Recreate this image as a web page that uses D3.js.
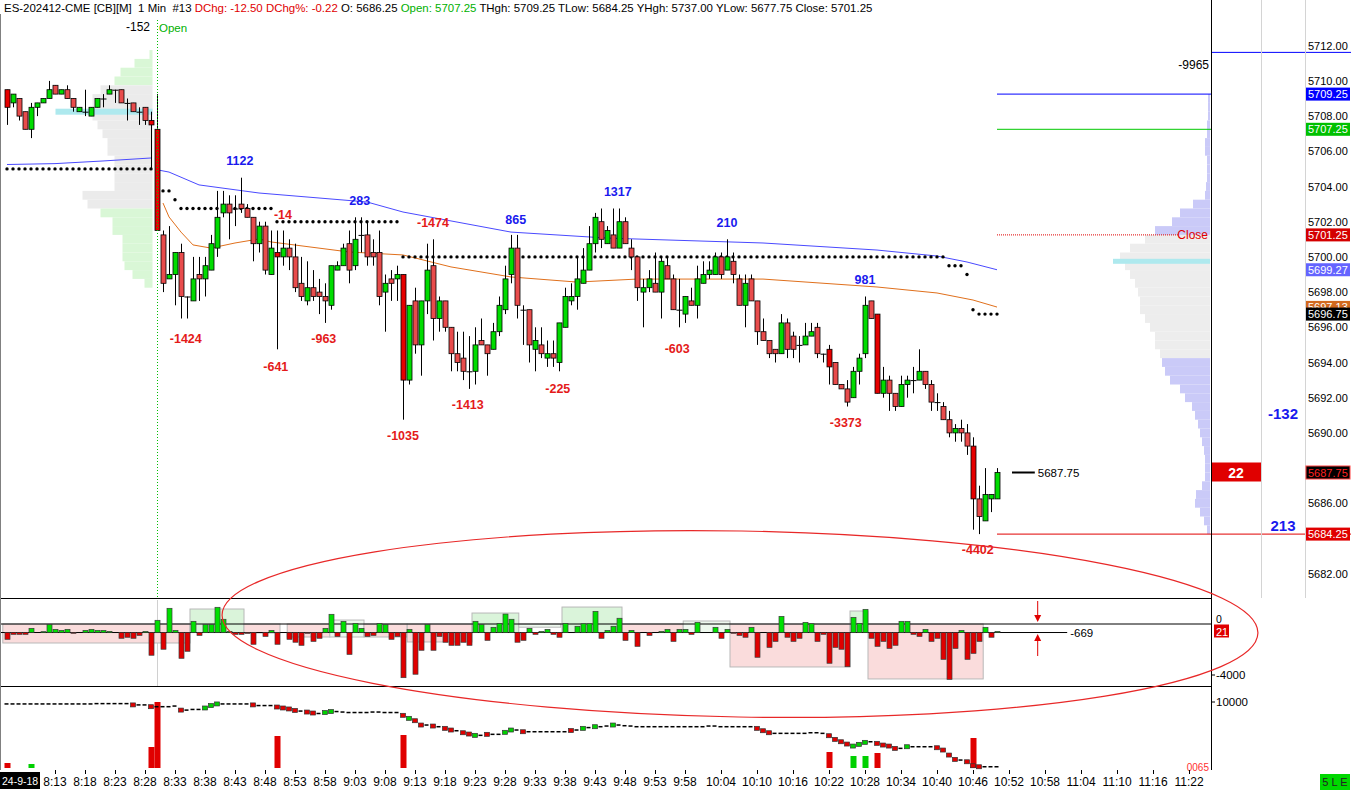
<!DOCTYPE html>
<html><head><meta charset="utf-8">
<script src="https://cdn.jsdelivr.net/npm/d3@7"></script>
<style>body{margin:0;background:#fff;overflow:hidden}svg{display:block;font-family:"Liberation Sans",Arial,sans-serif}</style>
</head><body><svg id="c" width="1351" height="790"></svg>
<script>
// ---------- DATA ----------
const opens=[5709.5,5708.75,5709.0,5708.25,5707.25,5708.5,5708.75,5709.0,5709.75,5709.25,
5709.5,5709.0,5708.25,5708.25,5708.0,5708.5,5709.0,5709.25,5709.5,5709.5,
5708.75,5708.75,5708.25,5708.5,5707.75,5707.25,5701.25,5698.75,5699.0,5700.25,
5697.75,5697.5,5699.0,5698.75,5699.25,5700.5,5702.5,5703.0,5702.75,5703.0,
5702.75,5702.25,5700.75,5701.75,5699.0,5700.25,5700.0,5700.5,5700.0,5698.5,
5697.5,5698.25,5698.0,5697.75,5697.25,5699.25,5699.5,5700.75,5699.5,5701.25,
5701.25,5700.25,5700.25,5698.0,5698.75,5698.75,5699.0,5693.0,5697.5,5695.0,
5697.5,5699.5,5696.5,5697.5,5696.0,5694.5,5694.25,5693.5,5693.5,5695.25,
5695.0,5694.75,5695.75,5697.0,5699.0,5700.5,5697.0,5697.0,5694.75,5695.0,
5694.25,5694.5,5694.0,5696.0,5697.5,5697.75,5698.5,5699.25,5700.75,5702.0,
5700.75,5701.25,5700.5,5702.0,5700.5,5700.0,5698.0,5698.25,5698.5,5698.0,
5699.5,5698.75,5697.0,5696.75,5697.5,5697.25,5698.5,5699.0,5699.0,5700.0,
5699.25,5699.75,5698.75,5697.25,5698.75,5697.5,5695.75,5695.25,5694.75,5694.5,
5696.25,5695.5,5695.0,5695.0,5695.5,5696.0,5694.5,5694.75,5694.0,5692.75,
5692.5,5692.0,5693.5,5694.5,5697.5,5696.75,5692.25,5693.0,5692.25,5691.5,
5692.75,5693.0,5693.0,5693.5,5692.75,5691.75,5691.5,5690.75,5690.0,5690.25,
5690.0,5689.25,5686.25,5685.0,5686.25,5686.25];
const highs=[5709.5,5709.25,5709.0,5708.25,5708.75,5708.75,5709.0,5710.0,5709.75,5709.5,
5709.75,5709.0,5708.5,5709.5,5708.5,5709.0,5709.25,5709.75,5709.5,5709.5,
5709.0,5708.75,5708.5,5708.5,5708.25,5709.25,5701.5,5701.75,5700.25,5700.75,
5697.75,5700.0,5700.0,5700.0,5701.25,5703.75,5703.75,5703.5,5703.5,5704.5,
5703.0,5702.25,5702.0,5702.0,5701.5,5701.5,5701.5,5701.0,5700.75,5700.0,
5699.75,5699.25,5698.75,5698.5,5699.5,5699.75,5700.75,5701.5,5702.25,5702.25,
5702.0,5701.0,5701.5,5699.0,5699.25,5699.5,5699.0,5697.25,5698.25,5697.5,
5700.75,5701.0,5697.75,5697.5,5696.0,5695.75,5695.75,5695.5,5696.0,5696.5,
5695.0,5696.25,5697.75,5699.5,5701.25,5701.25,5697.25,5697.0,5696.0,5696.0,
5695.25,5695.25,5696.25,5698.25,5698.5,5700.0,5700.5,5701.75,5702.5,5702.75,
5701.75,5702.75,5702.75,5702.25,5701.0,5700.0,5698.75,5699.25,5700.25,5700.0,
5700.0,5699.0,5698.75,5697.75,5698.25,5699.5,5699.75,5699.75,5700.25,5700.25,
5701.0,5700.25,5699.0,5699.0,5699.0,5697.5,5696.5,5695.25,5694.75,5696.75,
5696.5,5695.75,5695.5,5696.25,5696.25,5696.25,5694.5,5695.0,5694.0,5692.75,
5693.0,5693.75,5694.5,5697.75,5697.5,5696.75,5693.75,5693.25,5692.25,5693.25,
5693.25,5693.75,5694.75,5693.5,5693.0,5692.25,5691.75,5691.25,5690.5,5690.75,
5690.5,5689.75,5687.0,5688.0,5686.5,5688.0];
const lows=[5707.5,5708.5,5707.75,5707.25,5706.75,5708.0,5708.75,5709.0,5709.25,5709.25,
5709.0,5708.25,5708.25,5708.0,5708.0,5708.5,5708.5,5709.25,5708.75,5708.75,
5707.75,5708.25,5707.5,5707.5,5705.0,5701.5,5698.0,5698.75,5697.25,5696.5,
5696.5,5697.5,5697.5,5697.75,5699.25,5700.0,5702.25,5701.0,5701.75,5702.5,
5702.25,5699.75,5700.25,5699.0,5699.0,5694.75,5699.5,5699.25,5698.0,5697.5,
5697.25,5697.5,5696.75,5696.25,5697.0,5699.25,5699.5,5698.5,5699.25,5700.25,
5699.5,5699.5,5697.25,5695.75,5697.5,5697.5,5690.75,5692.75,5694.5,5693.25,
5696.75,5695.25,5695.75,5695.75,5693.5,5693.5,5693.0,5692.5,5692.75,5695.0,
5693.25,5694.75,5695.5,5696.75,5698.5,5696.5,5695.0,5694.0,5693.5,5694.25,
5693.75,5693.75,5693.5,5696.0,5697.25,5697.0,5698.5,5699.25,5700.25,5700.5,
5700.75,5700.5,5700.5,5700.75,5699.25,5697.5,5696.0,5698.0,5698.0,5696.5,
5698.75,5697.0,5696.0,5696.25,5697.25,5696.5,5698.5,5698.75,5699.0,5698.75,
5699.25,5698.5,5697.25,5696.0,5697.5,5695.0,5695.25,5694.25,5694.0,5694.5,
5694.25,5694.25,5694.0,5695.0,5695.5,5694.25,5694.0,5692.75,5692.75,5692.5,
5691.5,5692.0,5692.75,5694.25,5696.5,5692.25,5692.0,5691.25,5691.25,5691.5,
5692.0,5692.25,5693.0,5692.5,5691.25,5691.25,5690.75,5689.75,5689.5,5689.5,
5688.75,5684.5,5684.25,5685.0,5685.5,5686.25];
const closes=[5708.5,5709.25,5708.0,5707.25,5708.5,5708.75,5709.0,5709.5,5709.25,5709.5,
5709.0,5708.5,5708.5,5708.25,5708.5,5709.0,5709.0,5709.5,5709.5,5708.75,
5708.75,5708.25,5708.25,5707.75,5707.5,5701.5,5698.5,5699.0,5700.25,5697.75,
5697.75,5698.75,5698.75,5699.5,5700.75,5702.25,5703.0,5702.5,5702.75,5702.75,
5702.25,5700.75,5701.75,5699.25,5700.5,5700.0,5700.5,5700.0,5698.25,5697.75,
5698.25,5697.75,5697.75,5697.5,5699.5,5699.5,5700.5,5699.25,5701.0,5701.25,
5700.0,5700.0,5697.75,5698.5,5698.5,5699.0,5693.0,5697.25,5695.0,5697.5,
5699.25,5696.5,5697.5,5696.0,5694.5,5694.0,5693.5,5693.5,5695.0,5695.0,
5694.5,5695.75,5697.25,5698.75,5700.5,5697.25,5697.0,5695.0,5695.25,5694.5,
5694.5,5694.25,5696.25,5697.75,5697.75,5698.75,5699.25,5700.75,5702.25,5701.0,
5701.5,5700.5,5702.0,5700.75,5700.0,5698.25,5698.25,5698.75,5698.0,5699.75,
5698.75,5697.0,5697.0,5697.75,5697.25,5698.75,5699.0,5699.25,5700.0,5699.0,
5700.0,5699.0,5697.25,5698.5,5697.5,5695.75,5695.25,5694.5,5694.5,5696.25,
5694.75,5694.75,5695.0,5695.5,5695.75,5694.5,5694.5,5693.75,5692.75,5692.5,
5691.75,5693.5,5694.25,5697.25,5696.5,5692.25,5693.0,5692.25,5691.5,5692.75,
5693.0,5693.0,5693.5,5692.75,5691.75,5691.75,5690.75,5690.0,5690.25,5690.0,
5689.25,5686.25,5685.25,5686.5,5686.5,5687.75];
const deltas=[-1200,-810,-810,-810,-340,-669,-600,-50,-420,-500,
-420,-730,-669,-500,-420,-500,-500,-580,-669,-1120,
-1040,-1120,-890,-580,-2450,290,-1980,1230,-500,-2690,
-2140,210,-890,-50,-50,1310,370,-580,-810,-810,
-730,-1590,-669,-970,-500,-1590,-669,-1200,-1430,-1670,
-730,-1360,-1120,-340,760,-970,210,-2380,50,-340,
-970,-890,50,-50,-1200,-970,-4210,-420,-3940,-2060,
-50,-2060,-970,-1430,-1670,-1670,-1430,-1670,210,-50,
-1280,-260,50,780,370,-1430,-1280,-340,-810,-580,
-420,-810,-1040,50,-669,-180,20,20,990,-1120,
-500,-180,450,-1280,-500,-1750,-669,-890,-669,-580,
-420,-1360,-420,-420,-810,130,-669,-669,-260,-1120,
-420,-730,-890,-1040,-260,-2610,-669,-1830,-1360,600,
-1040,-1360,-1120,130,20,-1360,-810,-3080,-1830,-1980,
-3350,520,50,1150,-1120,-1750,-1360,-1910,-1670,210,
210,-810,-970,-420,-1360,-1120,-2770,-4340,-1910,-500,
-2770,-2300,-1360,-260,-1040,-580];
const deltaBaseline=-669;
const cumDelta=[9400,9400,9400,9400,9400,9400,9400,9400,9400,9400,
9400,9400,9400,9400,9400,9500,9500,9500,9500,9500,
9500,9100,9100,9100,8550,8550,8550,8550,8750,7500,
7500,7700,7700,8150,8900,9400,9400,9400,9400,9400,
9400,9100,8900,8900,8900,8450,8150,7850,7400,7200,
6900,6600,6450,6750,7050,7050,6900,6750,6750,6750,
6750,6900,6900,6750,6750,6750,5890,4960,4220,2890,
2890,2580,2370,1870,1350,1130,510,110,-290,-290,
20,20,20,640,1350,1350,820,820,820,820,
820,820,820,820,1200,1350,1870,2100,2370,2370,
2580,2890,2890,2680,2580,2370,2370,2370,2370,2370,
2370,2370,2370,2370,2370,2370,2370,2580,2580,2370,
2370,2370,2370,2370,2370,1870,1130,510,320,320,
320,320,320,320,510,510,320,-410,-1530,-2270,
-2980,-3600,-3070,-2450,-2270,-2760,-3290,-3600,-4310,-4310,
-3810,-3810,-3810,-3810,-3810,-4120,-4830,-6380,-7710,-7920,
-8450,-9680,-9990,-9990,-9990,-9990];
const spikeBars=[0,4,24,25,45,66,137,141,143,145,161];
const spikeVols=[500,400,2100,6600,3200,3300,1600,1200,1200,1500,3000];

const tickTimes=["8:13","8:18","8:23","8:28","8:33","8:38","8:43","8:48","8:53","8:58","9:03","9:08","9:13","9:18","9:23","9:28","9:33","9:38","9:43","9:48","9:53","9:58","10:04","10:10","10:16","10:22","10:28","10:34","10:40","10:46","10:52","10:58","11:04","11:10","11:16","11:22"];
const firstBarTime="8:05";
const sessionDate="24-9-18";
const priceTicks=[5682,5684,5686,5688,5690,5692,5694,5696,5698,5700,5702,5704,5706,5708,5710,5712];

const vwapPre=[[0,5705.25],[8,5705.3],[16,5705.45],[24,5705.62]];
const vwapSess=[[25,5704.95],[27,5704.82],[32,5704.09],[42,5703.63],[60,5703.12],[66,5702.55],[75,5701.98],[84,5701.41],[100,5701.07],[126,5700.79],[145,5700.39],[155,5700.05],[160,5699.71],[165,5699.27]];
const orangeLine=[[26,5703.06],[27,5702.27],[29,5701.41],[31,5700.68],[34,5700.5],[38,5700.79],[42,5701.02],[44,5700.85],[57,5700.28],[66,5700.11],[74,5699.43],[84,5698.86],[95,5698.57],[105,5698.74],[126,5698.74],[145,5698.29],[155,5697.95],[161,5697.55],[165,5697.15]];
const stopRuns=[[0,24,5705.0],[26,27,5703.75],[28,28,5703.25],[29,44,5702.75],[45,65,5702.0],[66,156,5700.0],[157,159,5699.5],[160,160,5699.0],[161,161,5697.0],[162,165,5696.75]];

const preProfPrices=[5711.5,5711.0,5710.5,5710.0,5709.5,5709.0,5708.5,5708.0,5707.5,5707.0,5706.5,5706.0,5705.5,5705.0,5704.5,5704.0,5703.5,5703.0,5702.5,5702.0,5701.5,5701.0,5700.5,5700.0,5699.5,5699.0,5698.5];
const preProfVols=[30,180,320,380,520,600,600,600,550,500,450,450,380,380,380,380,700,650,520,400,400,300,300,300,280,200,80];
const prePOC=[5708.25,970]; const preVA=[5709.75,5703.0];
const sessProfPrices=[5709.0,5708.5,5708.0,5707.5,5707.0,5706.5,5706.0,5705.5,5705.0,5704.5,5704.0,5703.5,5703.0,5702.5,5702.0,5701.5,5701.0,5700.5,5700.0,5699.5,5699.0,5698.5,5698.0,5697.5,5697.0,5696.5,5696.0,5695.5,5695.0,5694.5,5694.0,5693.5,5693.0,5692.5,5692.0,5691.5,5691.0,5690.5,5690.0,5689.5,5689.0,5688.5,5688.0,5687.5,5687.0,5686.5,5686.0,5685.5,5685.0,5684.5];
const sessProfVols=[20,20,20,30,30,50,50,30,30,30,40,50,170,300,380,550,650,800,900,850,800,750,720,700,700,650,600,550,550,500,480,450,400,300,250,180,150,120,100,80,60,50,50,50,80,140,150,100,60,30];
const sessPOC=[5699.75,970]; const sessVA=[5701.25,5694.25];

const swingText=["1122","-14","283","-1474","865","1317","210","981","-1424","-641","-963","-1035","-1413","-225","-603","-3373","-4402"];
const swingBar=[38.8,46,58.8,71,84.8,101.8,120,143,29.8,44.8,52.8,66,76.8,91.8,111.7,139.8,161.8];
const swingPrice=[5705.45,5702.43,5703.18,5701.93,5702.15,5703.69,5701.93,5698.69,5695.34,5693.8,5695.34,5689.83,5691.59,5692.55,5694.82,5690.57,5683.35];

// delta zone boxes: [startBar,endBar,top,bottom,kind]
const deltaBoxes=[[-0.7,30.5,0,-1490,"p"],[30.5,39.5,1176,-669,"g"],[39.5,45.5,0,-700,"p"],[46.7,53.8,0,-1020,"p"],[53.8,59.5,310,-1020,"o"],[59.5,66.7,0,-1020,"p"],[66.7,77.5,0,-1410,"p"],[77.5,85.3,860,-669,"g"],[85.3,92.3,0,-250,"o"],[92.5,102.5,1330,-669,"g"],[102.5,112.7,0,-669,"p"],[112.7,120.5,235,-669,"o"],[120.5,140.5,0,-3370,"p"],[140.5,143.5,1020,-669,"g"],[143.5,162.7,0,-4310,"p"]];

const thgh=5709.25, openPx=5707.25, prevClose=5701.25, tlow=5684.25, lastPx=5687.75, topLevel=5711.62;
const badges=[[5709.25,"5709.25","#0000ff","#fff"],[5707.25,"5707.25","#00c000","#fff"],[5701.25,"5701.25","#d40000","#fff"],[5699.27,"5699.27","#6464ff","#fff"],[5697.13,"5697.13","#d2691e","#fff"],[5696.75,"5696.75","#000","#fff"],[5687.75,"5687.75","#000","#ff2020"],[5684.25,"5684.25","#e00000","#fff"]];

// ---------- DRAW ----------
const svg=d3.select("#c");
const x=d3.scaleLinear().domain([0,200]).range([7,1207]);
const y=d3.scaleLinear().domain([5682,5712]).range([573.7,45.7]);
const yD=d3.scaleLinear().domain([-4000,0]).range([675,624]);
const yC=d3.scaleLinear().domain([-10065,10000]).range([767,702]);
const yS=d3.scaleLinear().domain([0,6600]).range([768,702]);
const toMin=t=>{const [h,m]=t.split(":").map(Number);return h*60+m;};
const GREEN="#00dc00", RED="#e84c4c", BRED="#e60000";

svg.append("rect").attr("width",1351).attr("height",790).attr("fill","#fff");
const defs=svg.append("defs");
defs.append("clipPath").attr("id","main").append("rect").attr("x",0).attr("y",14).attr("width",1211).attr("height",584);

const main=svg.append("g").attr("clip-path","url(#main)");

// pre-session profile
const preRight=x(24)+1.5;
const pScale=d3.scaleLinear().domain([0,970]).range([0,97]);
const rowH=Math.abs(y(0.5)-y(0));
main.selectAll(".pp").data(preProfPrices).join("rect")
 .attr("x",(d,i)=>preRight-pScale(preProfVols[i])).attr("y",d=>y(d)-rowH/2)
 .attr("width",(d,i)=>pScale(preProfVols[i])).attr("height",rowH)
 .attr("fill",d=>(d<=preVA[0]&&d>=preVA[1])?"#ebebeb":"#d9f7d6");
main.append("rect").attr("x",preRight-pScale(prePOC[1])).attr("y",y(prePOC[0])-3).attr("width",pScale(prePOC[1])).attr("height",6).attr("fill","#aee9ee");

// session profile anchored at 1210
const sScale=d3.scaleLinear().domain([0,970]).range([0,97]);
main.selectAll(".sp").data(sessProfPrices).join("rect")
 .attr("x",(d,i)=>1210-sScale(sessProfVols[i])).attr("y",d=>y(d)-rowH/2)
 .attr("width",(d,i)=>sScale(sessProfVols[i])).attr("height",rowH)
 .attr("fill",d=>(d<=sessVA[0]&&d>=sessVA[1])?"#ededed":"#cacaf8");
main.append("rect").attr("x",1210-sScale(sessPOC[1])).attr("y",y(sessPOC[0])-2.5).attr("width",sScale(sessPOC[1])).attr("height",5).attr("fill","#aee9ee");

// open line
svg.append("line").attr("x1",x(25)+0.5).attr("x2",x(25)+0.5).attr("y1",20).attr("y2",598).attr("stroke","#00c000").attr("stroke-dasharray","1,2");
svg.append("line").attr("x1",x(25)+0.5).attr("x2",x(25)+0.5).attr("y1",600).attr("y2",686).attr("stroke","#d0d0d0");

// level lines
const xe=x(165);
main.append("line").attr("x1",xe).attr("x2",1211).attr("y1",y(thgh)).attr("y2",y(thgh)).attr("stroke","#0000ff");
main.append("line").attr("x1",xe).attr("x2",1211).attr("y1",y(openPx)).attr("y2",y(openPx)).attr("stroke","#00c800");
main.append("line").attr("x1",xe).attr("x2",1178).attr("y1",y(prevClose)).attr("y2",y(prevClose)).attr("stroke","#e00000").attr("stroke-dasharray","1,1");
svg.append("line").attr("x1",xe).attr("x2",1351).attr("y1",y(tlow)).attr("y2",y(tlow)).attr("stroke","#e00000");
svg.append("line").attr("x1",1211).attr("x2",1351).attr("y1",y(topLevel)).attr("y2",y(topLevel)).attr("stroke","#0000ff");
svg.append("text").attr("x",1208).attr("y",y(prevClose)+4).attr("text-anchor","end").attr("font-size",12).attr("fill","#e00000").text("Close");
main.append("line").attr("x1",x(167.5)).attr("x2",x(171.3)).attr("y1",y(lastPx)).attr("y2",y(lastPx)).attr("stroke","#000").attr("stroke-width",2);
svg.append("text").attr("x",x(171.8)).attr("y",y(lastPx)+4).attr("font-size",11.5).text("5687.75");

// vwap + orange
const ln=d3.line().x(d=>x(d[0])).y(d=>y(d[1]));
main.append("path").attr("d",ln(vwapPre)).attr("fill","none").attr("stroke","#4a4aff").attr("stroke-width",1);
main.append("path").attr("d",ln(vwapSess)).attr("fill","none").attr("stroke","#4a4aff").attr("stroke-width",1);
main.append("path").attr("d",ln(orangeLine)).attr("fill","none").attr("stroke","#e0701c").attr("stroke-width",1);

// stop dots
const dots=[];stopRuns.forEach(r=>{for(let j=r[0];j<=r[1];j++)dots.push([j,r[2]]);});
main.selectAll(".dt").data(dots).join("circle").attr("cx",d=>x(d[0])).attr("cy",d=>y(d[1])).attr("r",1.7).attr("fill","#000");

// candles
const idx=d3.range(opens.length);
const spikeSet=new Set(spikeBars);
const cg=main.append("g");
cg.selectAll(".wk").data(idx).join("line").attr("x1",j=>x(j)+0.5).attr("x2",j=>x(j)+0.5)
 .attr("y1",j=>y(highs[j])).attr("y2",j=>y(lows[j])).attr("stroke","#000").attr("stroke-width",1);
cg.selectAll(".bd").data(idx.filter(j=>opens[j]!==closes[j])).join("rect")
 .attr("x",j=>x(j)-2).attr("width",5)
 .attr("y",j=>y(Math.max(opens[j],closes[j]))).attr("height",j=>Math.abs(y(opens[j])-y(closes[j])))
 .attr("fill",j=>closes[j]>opens[j]?GREEN:(spikeSet.has(j)?BRED:RED)).attr("stroke","#000").attr("stroke-width",0.8);
cg.selectAll(".dj").data(idx.filter(j=>opens[j]===closes[j])).join("line")
 .attr("x1",j=>x(j)-2.5).attr("x2",j=>x(j)+3.5).attr("y1",j=>y(opens[j])+0.5).attr("y2",j=>y(opens[j])+0.5).attr("stroke","#000");

// swing labels
main.selectAll(".sw").data(swingText).join("text").attr("x",(d,i)=>x(swingBar[i])).attr("y",(d,i)=>y(swingPrice[i])+4.5)
 .attr("text-anchor","middle").attr("font-size",12.5).attr("font-weight","bold")
 .attr("fill",d=>d.startsWith("-")?"#e41a1a":"#1a1aee").text(d=>d);
svg.append("text").attr("x",150).attr("y",31).attr("text-anchor","end").attr("font-size",12).text("-152");
svg.append("text").attr("x",x(25)+2).attr("y",32).attr("font-size",11.5).attr("fill","#00b000").text("Open");
svg.append("text").attr("x",1209).attr("y",69).attr("text-anchor","end").attr("font-size",12).text("-9965");

// ---------- DELTA PANEL ----------
const dp=svg.append("g");
dp.selectAll(".bx").data(deltaBoxes).join("rect").attr("x",d=>x(d[0])).attr("width",d=>x(d[1])-x(d[0]))
 .attr("y",d=>yD(d[2])).attr("height",d=>yD(d[3])-yD(d[2]))
 .attr("fill",d=>d[4]==="p"?"#fadcdc":(d[4]==="g"?"#daf4da":"#eef8ee")).attr("stroke","#b8b8b8").attr("stroke-width",1);
dp.append("line").attr("x1",0).attr("x2",1211).attr("y1",yD(0)).attr("y2",yD(0)).attr("stroke","#000");
dp.append("line").attr("x1",0).attr("x2",x(176.7)).attr("y1",yD(deltaBaseline)).attr("y2",yD(deltaBaseline)).attr("stroke","#000");
dp.selectAll(".db").data(idx.filter(j=>deltas[j]!==deltaBaseline)).join("rect")
 .attr("x",j=>x(j)-2).attr("width",5)
 .attr("y",j=>yD(Math.max(deltas[j],deltaBaseline))).attr("height",j=>Math.abs(yD(deltas[j])-yD(deltaBaseline)))
 .attr("fill",j=>deltas[j]>deltaBaseline?"#00e000":"#e00000").attr("stroke","#3a3a3a").attr("stroke-width",0.7);
dp.append("text").attr("x",x(177.2)).attr("y",yD(deltaBaseline)+4).attr("font-size",11.5).text("-669");
const ax=x(171.7)+0.5;
dp.append("line").attr("x1",ax).attr("x2",ax).attr("y1",601).attr("y2",617).attr("stroke","#e00000");
dp.append("path").attr("d",`M${ax-3.5},615 L${ax+3.5},615 L${ax},622 Z`).attr("fill","#e00000");
dp.append("line").attr("x1",ax).attr("x2",ax).attr("y1",656).attr("y2",639).attr("stroke","#e00000");
dp.append("path").attr("d",`M${ax-3.5},641 L${ax+3.5},641 L${ax},634 Z`).attr("fill","#e00000");
dp.append("text").attr("x",1216).attr("y",yD(0)-1).attr("font-size",10.5).text("0");
dp.append("rect").attr("x",1214).attr("y",yD(0)+0.5).attr("width",15).attr("height",13).attr("fill","#e00000");
dp.append("text").attr("x",1216).attr("y",yD(0)+11.5).attr("font-size",11).attr("fill","#fff").text("21");
dp.append("text").attr("x",1216).attr("y",yD(-4000)+4).attr("font-size",11.5).text("-4000");
dp.append("line").attr("x1",1211).attr("x2",1215).attr("y1",yD(-4000)).attr("y2",yD(-4000)).attr("stroke","#000");

// ---------- LOWER PANEL ----------
const lp=svg.append("g");
lp.selectAll(".sk").data(spikeBars).join("rect").attr("x",j=>x(j)-2.5).attr("width",6)
 .attr("y",(j,i)=>yS(spikeVols[i])).attr("height",(j,i)=>yS(0)-yS(spikeVols[i]))
 .attr("fill",j=>closes[j]>opens[j]?"#00d000":"#e00000");
const big=j=>j>0&&Math.abs(cumDelta[j]-cumDelta[j-1])>=250;
lp.selectAll(".cm").data(idx).join("rect")
 .attr("x",j=>x(j)-2.5).attr("width",j=>big(j)?5:4)
 .attr("y",j=>big(j)?yC(cumDelta[j])-2:yC(cumDelta[j])-0.75)
 .attr("height",j=>big(j)?4:1.5)
 .attr("fill",j=>big(j)?(deltas[j]>deltaBaseline?"#00d000":"#e00000"):"#000")
 .attr("stroke",j=>big(j)?"#333":"none").attr("stroke-width",0.7);
lp.append("text").attr("x",1216).attr("y",yC(10000)+4).attr("font-size",11.5).text("10000");
lp.append("line").attr("x1",1211).attr("x2",1215).attr("y1",yC(10000)).attr("y2",yC(10000)).attr("stroke","#000");
lp.append("text").attr("x",1209).attr("y",771).attr("text-anchor","end").attr("font-size",10).attr("fill","#ff3030").text("0065");

// ---------- FRAMES ----------
svg.append("line").attr("x1",0).attr("x2",1211).attr("y1",598.5).attr("y2",598.5).attr("stroke","#000");
svg.append("line").attr("x1",0).attr("x2",1211).attr("y1",686.5).attr("y2",686.5).attr("stroke","#000");
svg.append("line").attr("x1",1211.5).attr("x2",1211.5).attr("y1",0).attr("y2",770).attr("stroke","#000");
svg.append("line").attr("x1",0.5).attr("x2",0.5).attr("y1",14).attr("y2",770).attr("stroke","#808080");
svg.append("line").attr("x1",1261.5).attr("x2",1261.5).attr("y1",0).attr("y2",598).attr("stroke","#d4d4d4");
svg.append("line").attr("x1",1305.5).attr("x2",1305.5).attr("y1",0).attr("y2",598).attr("stroke","#d4d4d4");

// price axis (ticks hidden behind a badge are skipped)
const visTicks=priceTicks.filter(p=>badges.every(b=>Math.abs(y(p)-y(b[0]))>=8));
svg.selectAll(".pt").data(visTicks).join("text").attr("x",1308).attr("y",d=>y(d)+4).attr("font-size",11).text(d=>d.toFixed(2));
const bg=svg.append("g");
badges.forEach(b=>{
  bg.append("rect").attr("x",1306).attr("y",y(b[0])-6.5).attr("width",44).attr("height",13).attr("fill",b[2]).attr("stroke",b[3]==="#ff2020"?"#ff4040":"none");
  bg.append("text").attr("x",1308).attr("y",y(b[0])+4).attr("font-size",11).attr("fill",b[3]).text(b[1]);
});
// middle column
svg.append("rect").attr("x",1212).attr("y",y(lastPx)-10).attr("width",49).attr("height",19).attr("fill","#e00000");
svg.append("text").attr("x",1236).attr("y",y(lastPx)+5).attr("text-anchor","middle").attr("font-size",14).attr("font-weight","bold").attr("fill","#fff").text("22");
svg.append("text").attr("x",1283).attr("y",y(5691.07)+5).attr("text-anchor","middle").attr("font-size",15).attr("font-weight","bold").attr("fill","#1a1aee").text("-132");
svg.append("text").attr("x",1283).attr("y",y(5684.7)+5).attr("text-anchor","middle").attr("font-size",15).attr("font-weight","bold").attr("fill","#1a1aee").text("213");

// time axis
const t0=toMin(firstBarTime);
svg.selectAll(".tk").data(tickTimes).join("line").attr("x1",d=>x(toMin(d)-t0)+0.5).attr("x2",d=>x(toMin(d)-t0)+0.5).attr("y1",770).attr("y2",774).attr("stroke","#000");
svg.selectAll(".tl").data(tickTimes).join("text").attr("x",d=>x(toMin(d)-t0)).attr("y",786).attr("text-anchor","middle").attr("font-size",12).text(d=>d);
svg.append("rect").attr("x",0).attr("y",772).attr("width",40).attr("height",17).attr("fill","#000");
svg.append("text").attr("x",2).attr("y",785).attr("font-size",10.5).attr("fill","#fff").text(sessionDate);
svg.append("rect").attr("x",1320).attr("y",774).attr("width",30).attr("height",16).attr("fill","#00d800");
svg.append("text").attr("x",1335).attr("y",786).attr("text-anchor","middle").attr("font-size",11).attr("fill","#222").text("5 L E");

// ellipse
svg.append("ellipse").attr("cx",740).attr("cy",624).attr("rx",518).attr("ry",93).attr("transform","rotate(1,740,624)")
 .attr("fill","none").attr("stroke","#e82828").attr("stroke-width",1.2);

// header
const hd=svg.append("text").attr("x",4).attr("y",12).attr("font-size",11.45).attr("xml:space","preserve").style("white-space","pre");
hd.append("tspan").attr("fill","#000").text("ES-202412-CME [CB][M]  1 Min  #13 ");
hd.append("tspan").attr("fill","#e00000").text("DChg: -12.50 DChg%: -0.22 ");
hd.append("tspan").attr("fill","#000").text("O: 5686.25 ");
hd.append("tspan").attr("fill","#00b000").text("Open: 5707.25 ");
hd.append("tspan").attr("fill","#000").text("THgh: 5709.25 TLow: 5684.25 YHgh: 5737.00 YLow: 5677.75 Close: 5701.25");
</script></body></html>
